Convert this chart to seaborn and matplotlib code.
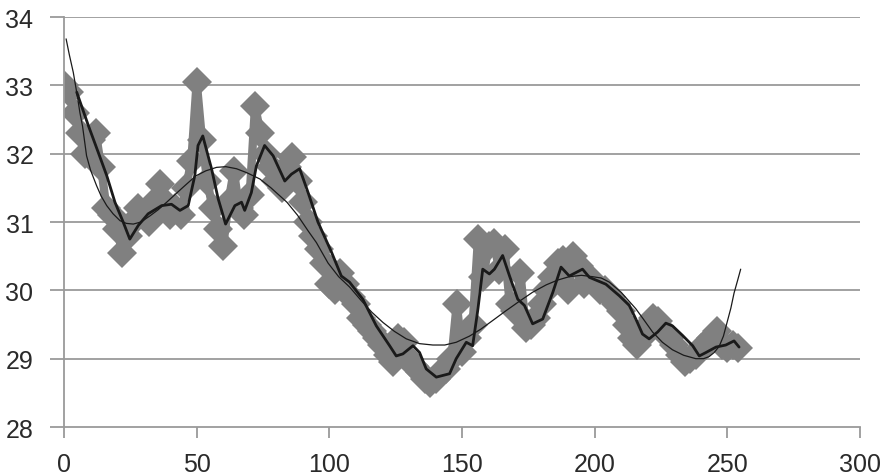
import matplotlib
matplotlib.use("Agg")
import matplotlib.pyplot as plt
import seaborn as sns
import pandas as pd

# --- raw measurements (gray diamonds), every 2 units ---
raw_x = list(range(0, 256, 2))
raw_y = [
    33.0, 32.9, 32.6, 32.3, 32.0, 32.2, 32.3, 31.8, 31.2, 31.1,      # 0-18
    30.9, 30.55, 30.8, 31.0, 31.2, 31.1, 31.0, 31.3, 31.55, 31.3,    # 20-38
    31.1, 31.2, 31.1, 31.5, 31.9, 33.05, 32.2, 31.6, 31.2, 30.9,     # 40-58
    30.65, 31.3, 31.75, 31.2, 31.1, 31.4, 32.7, 32.3, 32.0, 31.8,    # 60-78
    31.6, 31.5, 31.8, 31.95, 31.6, 31.3, 31.0, 30.8, 30.6, 30.4,     # 80-98
    30.1, 30.0, 30.25, 30.1, 29.9, 29.8, 29.6, 29.5, 29.4, 29.3,     # 100-118
    29.2, 29.05, 28.95, 29.3, 29.25, 29.0, 28.9, 28.8, 28.7, 28.65,  # 120-138
    28.7, 28.8, 28.85, 29.0, 29.8, 29.1, 29.3, 29.5, 30.75, 30.2,    # 140-158
    30.65, 30.7, 30.3, 30.6, 29.8, 29.7, 30.25, 29.45, 29.5, 29.6,   # 160-178
    29.8, 30.0, 30.2, 30.4, 30.45, 30.0, 30.5, 30.35, 30.1, 30.2,    # 180-198
    30.1, 30.0, 30.0, 29.9, 29.8, 29.7, 29.5, 29.3, 29.2, 29.3,      # 200-218
    29.5, 29.6, 29.55, 29.4, 29.3, 29.2, 29.05, 28.95, 29.0, 29.05,  # 220-238
    29.15, 29.2, 29.3, 29.4, 29.2, 29.15, 29.2, 29.15,               # 240-254
]

# --- moving average (thick black line) ---
ma_x = [4.8, 9.2, 12.9, 16.1, 19.2, 22.3, 24.8, 28, 31.7, 36.8, 40.5, 43.7,
        46.8, 49.3, 50.5, 52.3, 55.6, 58.1, 60.9, 64.4, 66.9, 68.1, 70.6,
        72.5, 75.6, 78.8, 83.2, 85.7, 88.8, 92, 95.7, 100.8, 104.5, 107.6,
        112.6, 117.7, 122.7, 125.2, 127.7, 131.5, 134, 136.5, 140.3, 145.3,
        147.8, 151.6, 154, 156, 157.8, 160.3, 162.2, 165.3, 167.9, 171,
        173.5, 176.6, 180.4, 184.2, 187.3, 190.4, 195.4, 198, 204.2, 209.3,
        213, 215.5, 218, 220.5, 223.7, 226.8, 229.3, 233.1, 236.9, 239.4,
        241.9, 245.7, 249.4, 252.5, 254.4]
ma_y = [32.9, 32.41, 32.02, 31.68, 31.29, 31.0, 30.75, 30.95, 31.12, 31.24,
        31.26, 31.17, 31.24, 31.68, 32.12, 32.26, 31.78, 31.34, 30.97, 31.24,
        31.29, 31.17, 31.43, 31.82, 32.12, 31.97, 31.6, 31.7, 31.78, 31.43,
        31.0, 30.56, 30.21, 30.12, 29.87, 29.48, 29.19, 29.04, 29.07, 29.19,
        29.09, 28.85, 28.73, 28.78, 29.0, 29.24, 29.19, 29.73, 30.31, 30.24,
        30.31, 30.51, 30.21, 29.87, 29.78, 29.51, 29.58, 29.97, 30.34, 30.21,
        30.31, 30.19, 30.09, 29.92, 29.78, 29.58, 29.36, 29.29, 29.39, 29.52,
        29.48, 29.34, 29.19, 29.04, 29.09, 29.17, 29.2, 29.26, 29.17]

# --- polynomial trendline (thin black line) ---
trend_x = [0.8, 2, 3.5, 5, 6, 7, 8.5, 10, 12.3, 14, 16.1, 18.5, 21.1, 23.5,
           26.1, 29, 32.4, 35.5, 38.7, 41.8, 44.9, 47.5, 49.9, 53.5, 57.5,
           61, 65, 69, 73.8, 78, 84, 88, 92, 95.1, 99.5, 103.5, 107.6, 112,
           116, 120.2, 124.5, 129, 134, 139, 143.5, 147.8, 152.8, 157,
           161.6, 166.5, 171.6, 176.5, 181.7, 186, 190.4, 195, 199.2, 202.5,
           205.5, 210, 215.5, 218.5, 221.8, 225.5, 229.3, 233.5, 238.1, 241,
           243.1, 245, 246.9, 248.5, 250, 251.3, 252.5, 253.8, 255]
trend_y = [33.68, 33.45, 33.19, 32.85, 32.6, 32.4, 31.97, 31.76, 31.53, 31.38,
           31.24, 31.12, 31.02, 30.98, 30.97, 31.0, 31.09, 31.18, 31.29, 31.4,
           31.51, 31.6, 31.68, 31.75, 31.8, 31.81, 31.78, 31.72, 31.63, 31.5,
           31.29, 31.1, 30.87, 30.7, 30.4, 30.2, 30.05, 29.85, 29.68, 29.53,
           29.4, 29.29, 29.22, 29.2, 29.2, 29.24, 29.33, 29.43, 29.56, 29.7,
           29.84, 29.97, 30.08, 30.15, 30.2, 30.22, 30.2, 30.18, 30.12, 29.97,
           29.73, 29.57, 29.39, 29.24, 29.13, 29.05, 29.0, 29.0, 29.03, 29.09,
           29.18, 29.33, 29.55, 29.74, 29.96, 30.14, 30.31]

# Ticks / axis setup
X_TICKS = [0, 50, 100, 150, 200, 250, 300]
Y_TICKS = [28, 29, 30, 31, 32, 33, 34]

raw_df = pd.DataFrame({"x": raw_x, "y": raw_y})
ma_df = pd.DataFrame({"x": ma_x, "y": ma_y})
trend_df = pd.DataFrame({"x": trend_x, "y": trend_y})

sns.set_style("white")
plt.rcParams["font.family"] = ["Liberation Sans", "DejaVu Sans"]

fig = plt.figure(figsize=(8.95, 4.77), dpi=100)
ax = fig.add_axes([0.0715, 0.1027, 0.8895, 0.8595])

grid_col = "#9a9a9a"
for yv in Y_TICKS[1:]:
    ax.axhline(yv, color=grid_col, lw=1.3, zorder=0)

sns.lineplot(data=raw_df, x="x", y="y", ax=ax, sort=False, estimator=None,
             color="#808080", lw=6, marker="D", markersize=15,
             markeredgewidth=0, zorder=2)
sns.lineplot(data=ma_df, x="x", y="y", ax=ax, sort=False, estimator=None,
             color="#1a1a1a", lw=2.0, zorder=3)
sns.lineplot(data=trend_df, x="x", y="y", ax=ax, sort=False, estimator=None,
             color="#1a1a1a", lw=0.9, zorder=4)

ax.set_xlim(0, 300)
ax.set_ylim(28, 34)
ax.set_xticks(X_TICKS)
ax.set_yticks(Y_TICKS)
ax.set_xlabel("")
ax.set_ylabel("")

for side in ["top", "right"]:
    ax.spines[side].set_visible(False)
for side in ["left", "bottom"]:
    ax.spines[side].set_color(grid_col)
    ax.spines[side].set_linewidth(1.3)

ax.tick_params(axis="x", direction="out", length=8, width=1.3, color=grid_col,
               labelsize=18, labelcolor="#2a2a2a", pad=10, bottom=True)
ax.tick_params(axis="y", direction="out", length=10, width=1.3, color=grid_col,
               labelsize=18, labelcolor="#2a2a2a", pad=12, left=True)

fig.savefig("out.png", dpi=100)
